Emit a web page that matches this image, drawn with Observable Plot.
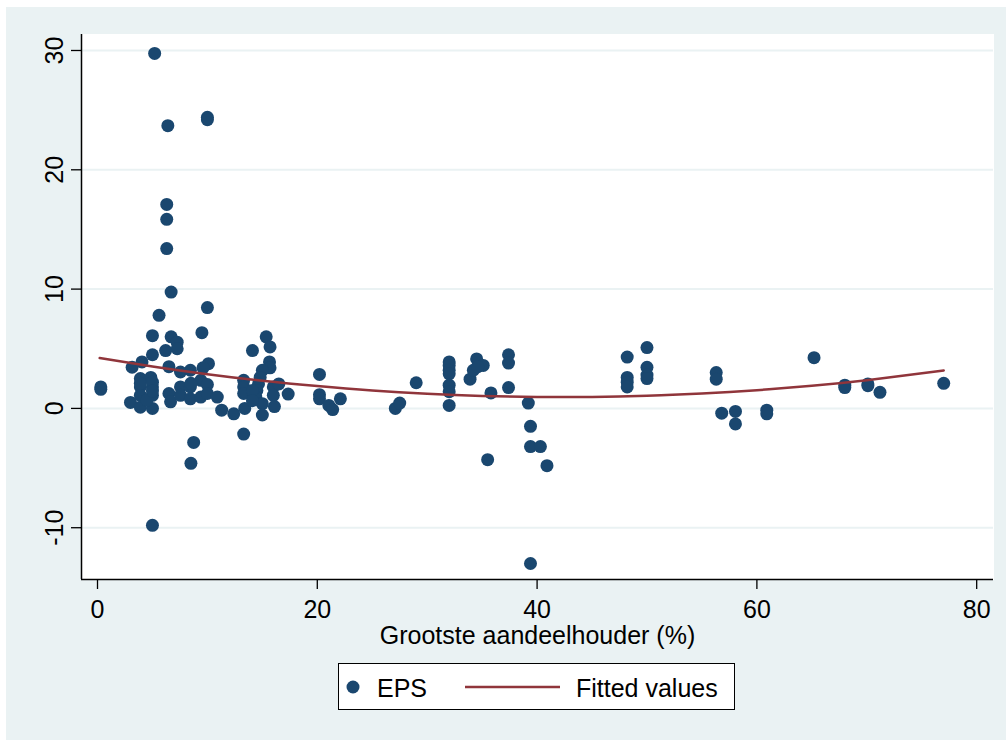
<!DOCTYPE html>
<html><head><meta charset="utf-8">
<script src="https://cdn.jsdelivr.net/npm/d3@7"></script>
<script src="https://cdn.jsdelivr.net/npm/@observablehq/plot@0.6"></script>
<style>
body{margin:0;background:#fff;font-family:"Liberation Sans",Arial,sans-serif;}
#outer{position:absolute;left:6px;top:7px;width:1000px;height:733px;background:#eaf2f3;overflow:hidden;}
#chart{position:absolute;left:0;top:0;}
#legend{position:absolute;left:332px;top:656px;width:395px;height:45px;border:1px solid #000;background:#fff;}
</style></head><body><div id="outer"><div id="chart"></div><div id="legend"></div></div>
<script>
// Grootste aandeelhouder (%) — x values
const shareholder = [
  5.2, 6.4, 10.0, 10.0, 6.3, 6.3, 6.3, 6.7, 10.0, 5.6,
  5.0, 9.5, 6.7, 7.25, 7.25, 6.2, 5.0, 4.05, 3.15, 6.5,
  7.55, 8.45, 10.1, 9.6, 0.3, 0.3, 3.9, 4.85, 3.9, 5.0,
  3.9, 5.0, 3.0, 3.9, 5.0, 4.5, 3.9, 5.0, 5.0, 6.5,
  6.65, 7.55, 7.55, 8.45, 8.45, 9.4, 9.4, 8.5, 10.0, 10.0,
  10.9, 11.3, 12.4, 13.3, 8.75, 8.5, 5.0, 13.3, 13.3, 13.3,
  13.4, 14.1, 15.35, 15.7, 15.65, 15.7, 15.0, 14.8, 14.65, 14.5,
  14.4, 15.0, 15.0, 14.1, 14.1, 16.0, 16.5, 16.0, 17.35, 16.1,
  20.2, 20.2, 20.2, 21.05, 21.4, 22.1, 27.1, 27.5, 29.0, 32.0,
  32.0, 32.0, 32.0, 32.0, 32.0, 32.0, 33.9, 34.2, 34.5, 35.1,
  34.6, 35.8, 35.5, 37.4, 37.4, 37.4, 39.2, 39.4, 39.4, 40.3,
  40.9, 39.4, 48.2, 48.2, 48.2, 48.2, 50.0, 50.0, 50.0, 50.0,
  56.3, 56.3, 56.8, 58.05, 58.05, 60.9, 60.9, 65.2, 68.0, 68.0,
  70.1, 70.1, 71.2, 77.0
];
// EPS — y values
const eps = [
  29.75, 23.7, 24.4, 24.2, 17.1, 15.85, 13.4, 9.75, 8.45, 7.8,
  6.1, 6.35, 6.0, 5.55, 5.0, 4.85, 4.5, 3.9, 3.45, 3.5,
  3.05, 3.2, 3.75, 3.4, 1.8, 1.6, 2.5, 2.6, 1.8, 1.8,
  1.1, 1.1, 0.5, 0.1, 0.0, 0.7, 2.1, 2.2, 1.45, 1.25,
  0.55, 1.8, 1.1, 1.8, 0.8, 0.95, 2.35, 2.1, 2.0, 1.25,
  0.95, -0.15, -0.45, -2.15, -2.85, -4.6, -9.8, 2.35, 1.8, 1.25,
  0.0, 4.85, 6.0, 5.15, 3.9, 3.4, 3.2, 2.6, 2.05, 1.5,
  0.95, 0.4, -0.55, 1.5, 0.65, 1.8, 2.05, 1.1, 1.2, 0.15,
  2.85, 1.15, 0.8, 0.25, -0.1, 0.8, 0.0, 0.45, 2.15, 3.9,
  3.6, 3.2, 2.9, 1.95, 1.4, 0.25, 2.45, 3.2, 4.15, 3.6,
  3.5, 1.3, -4.3, 4.5, 3.8, 1.75, 0.45, -1.5, -3.2, -3.2,
  -4.8, -13.0, 4.3, 2.6, 2.2, 1.8, 5.1, 3.45, 2.8, 2.5,
  3.0, 2.45, -0.4, -0.25, -1.3, -0.15, -0.45, 4.25, 1.95, 1.75,
  2.05, 1.9, 1.35, 2.1
];
// Fitted values
const fitShareholder = [0.2, 5, 10, 15, 20, 25, 30, 35, 40, 45, 50, 55, 60, 65, 70, 77];
const fitEps = [4.22, 3.52, 2.87, 2.32, 1.87, 1.50, 1.23, 1.05, 0.96, 0.96, 1.06, 1.25, 1.53, 1.90, 2.37, 3.18];

const xTicks = [0, 20, 40, 60, 80];
const yTicks = [-10, 0, 10, 20, 30];
const xLabel = "Grootste aandeelhouder (%)";
const seriesLabels = ["EPS", "Fitted values"];
const dotColor = "#1a476f";
const lineColor = "#90353b";

const points = shareholder.map((x, i) => ({x, y: eps[i]}));
const fit = fitShareholder.map((x, i) => ({x, y: fitEps[i]}));
const xDom = [-1.456, 81.53];
const yDom = [-14.34, 31.34];

const chart = Plot.plot({
  width: 1000, height: 650,
  marginLeft: 75, marginRight: 13, marginTop: 27, marginBottom: 78,
  style: {background: "transparent", fontFamily: "Liberation Sans, Arial, sans-serif", color: "#000"},
  x: {domain: xDom},
  y: {domain: yDom},
  marks: [
    Plot.frame({fill: "white", stroke: "white"}),
    Plot.gridY(yTicks, {stroke: "#eaf2f3", strokeOpacity: 1, strokeWidth: 2}),
    Plot.dot(points, {x: "x", y: "y", r: 6.5, fill: dotColor}),
    Plot.line(fit, {x: "x", y: "y", stroke: lineColor, strokeWidth: 2.5, curve: "natural"}),
    Plot.axisX({ticks: xTicks, tickFormat: d => String(d), tickSize: 10, tickPadding: 11, fontSize: 25, label: null, strokeWidth: 1.3}),
    Plot.axisY({ticks: yTicks, tickFormat: d => String(d), tickSize: 10, tickPadding: 9, tickRotate: -90, fontSize: 25, label: null, strokeWidth: 1.3}),
    Plot.ruleX([xDom[0]], {stroke: "#000", strokeWidth: 1.5}),
    Plot.ruleY([yDom[0]], {stroke: "#000", strokeWidth: 1.5}),
    Plot.text([xLabel], {frameAnchor: "bottom", dy: 64, lineAnchor: "bottom", fontSize: 25, fill: "#000"})
  ]
});
document.getElementById("chart").appendChild(chart);

// Legend
const lg = d3.select("#legend").append("svg").attr("width", 395).attr("height", 45)
  .style("font-family", "Liberation Sans, Arial, sans-serif").style("font-size", "25px");
lg.append("circle").attr("cx", 14).attr("cy", 23).attr("r", 6.5).attr("fill", dotColor);
lg.append("text").attr("x", 38).attr("y", 33).text(seriesLabels[0]);
lg.append("line").attr("x1", 126).attr("x2", 221).attr("y1", 23).attr("y2", 23)
  .attr("stroke", lineColor).attr("stroke-width", 2.5);
lg.append("text").attr("x", 237).attr("y", 33).text(seriesLabels[1]);
</script></body></html>
